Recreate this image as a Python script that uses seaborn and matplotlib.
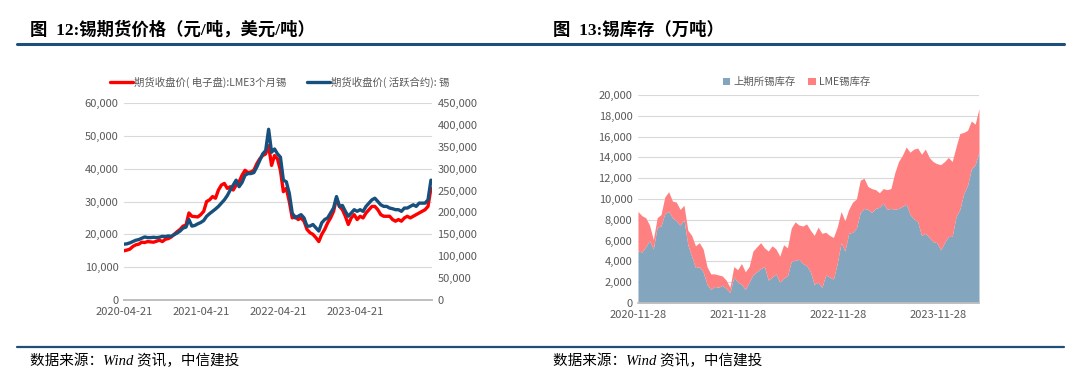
import pandas as pd
import matplotlib.pyplot as plt
import matplotlib.dates as mdates
import seaborn as sns

# Left chart: tin futures prices, 14-day steps from 2020-04-21
lme_usd = [15000, 15200, 15500, 16300, 16800, 17000, 17600, 17500, 17800, 17700,
           17600, 17900, 18200, 17800, 18500, 18700, 19200, 20000, 20800, 21500,
           22500, 22800, 26500, 25500, 25400, 25300, 26000, 27000, 30000, 30500,
           31500, 31000, 33500, 35000, 35500, 34000, 34500, 33500, 35000, 36000,
           38000, 39500, 38800, 39000, 39500, 41500, 43000, 44000, 44500, 47000,
           41000, 44000, 43000, 39500, 33000, 34000, 30000, 25000, 25500, 24500,
           25000, 24000, 21500, 20500, 20000, 19000, 17800, 20000, 21500, 23500,
           25000, 27000, 31000, 28500, 27500, 25500, 23000, 25000, 26000, 24500,
           25500, 25000, 26500, 27500, 28500, 28500, 27500, 26000, 25500, 25500,
           25500, 24500, 24000, 24500, 24000, 25000, 25500, 25000, 25500, 26000,
           26500, 27000, 27500, 28500, 34000]
shfe_cny = [127500, 128300, 130500, 133500, 136500, 138000, 141000, 144000, 142500, 142500,
            143300, 142500, 143300, 145500, 144800, 146300, 145500, 149300, 153000, 157500,
            164300, 166500, 183800, 168800, 170300, 174000, 177000, 181500, 191300, 197300,
            202500, 207800, 213800, 221300, 228800, 238500, 251300, 262500, 273800, 258800,
            268500, 285000, 288800, 288800, 291000, 303800, 318800, 333800, 341300, 390000,
            337500, 345000, 333800, 326300, 273800, 270000, 243800, 198800, 187500, 191300,
            195000, 187500, 168800, 168800, 172500, 165000, 157500, 176300, 183800, 187500,
            198800, 210000, 236300, 213800, 216000, 202500, 191300, 198800, 206300, 202500,
            206300, 202500, 213800, 221300, 228800, 232500, 225000, 217500, 213800, 213800,
            210000, 208500, 206300, 206300, 202500, 210000, 210000, 213800, 217500, 213800,
            221300, 221300, 221300, 228800, 273800]
price_dates = pd.date_range('2020-04-21', periods=len(lme_usd), freq='14D')
price_ticks = ['2020-04-21', '2021-04-21', '2022-04-21', '2023-04-21']

# Right chart: tin inventories, 14-day steps from 2020-11-28
shfe_stock = [5000, 4900, 5400, 6000, 5200, 7300, 7400, 8600, 8800, 8200,
              7900, 7500, 8000, 5600, 4500, 3400, 3500, 3000, 1800, 1300,
              1600, 1500, 1700, 1400, 1000, 2500, 2000, 1800, 1300, 2000,
              2700, 3000, 3300, 3500, 2200, 2500, 2800, 2000, 2400, 2600,
              4000, 4100, 4200, 3800, 3600, 3000, 1800, 2000, 1500, 2700,
              2500, 2300, 3800, 5800, 5000, 6700, 6800, 7200, 8700, 9100,
              9000, 8700, 9100, 9200, 9600, 9000, 9100, 9000, 9100, 9300,
              9500, 8500, 8100, 7800, 6500, 6700, 6300, 5900, 5800, 5100,
              5800, 6400, 6400, 8300, 9000, 10500, 11300, 12900, 13300, 14500]
lme_stock = [3800, 3500, 2800, 1500, 900, 900, 1100, 1600, 1900, 1600,
             1800, 1500, 1400, 1400, 2000, 2100, 2300, 2200, 1700, 1500,
             1200, 1200, 900, 800, 500, 1000, 1200, 2000, 1700, 1500,
             2300, 2400, 2500, 1800, 2800, 3000, 2400, 2500, 3200, 2700,
             3200, 3700, 3300, 3600, 4000, 4000, 4700, 5300, 5200, 4100,
             4000, 4000, 3500, 3000, 2900, 2300, 2900, 2800, 3100, 2900,
             2200, 2300, 1800, 1400, 1400, 1900, 1900, 3500, 4500, 4900,
             5500, 6000, 6700, 7100, 7800, 8100, 7700, 7700, 7600, 8200,
             7800, 7600, 7200, 6700, 7300, 5900, 5300, 4600, 3900, 4200]
stock_dates = pd.date_range('2020-11-28', periods=len(shfe_stock), freq='14D')
stock_ticks = ['2020-11-28', '2021-11-28', '2022-11-28', '2023-11-28']

sns.set_theme(style="white")
plt.rcParams['font.family'] = ['Noto Sans CJK SC', 'DejaVu Sans']
plt.rcParams['axes.unicode_minus'] = False

grey = '#595959'
navy = '#1f4e79'
serif_cjk = ['Liberation Serif', 'Noto Sans CJK SC']
fig = plt.figure(figsize=(10.8, 3.78), dpi=100)

def fmt(v, pos):
    return f'{int(v):,}'

# ---- left chart
ax = fig.add_axes([124/1080, 78/378, 308/1080, 197/378])
ax2 = ax.twinx()
sns.lineplot(x=price_dates, y=lme_usd, ax=ax, color='#ff0000', lw=2.4)
sns.lineplot(x=price_dates, y=shfe_cny, ax=ax2, color='#17507d', lw=2.4)
ax.set_ylim(0, 60000)
ax2.set_ylim(0, 450000)
ax.set_yticks(range(0, 60001, 10000))
ax2.set_yticks(range(0, 450001, 50000))
ax.yaxis.set_major_formatter(plt.FuncFormatter(fmt))
ax2.yaxis.set_major_formatter(plt.FuncFormatter(fmt))
ax.set_xlim(price_dates[0], pd.Timestamp('2024-04-21'))
ax.set_xticks(pd.to_datetime(price_ticks))
ax.xaxis.set_major_formatter(mdates.DateFormatter('%Y-%m-%d'))
ax.grid(axis='y', color='#d9d9d9', lw=0.8)
ax.set_axisbelow(True)
for a in (ax, ax2):
    for s in ('top', 'left', 'right'):
        a.spines[s].set_visible(False)
    a.spines['bottom'].set_color('#bfbfbf')
    a.tick_params(colors=grey, labelsize=8, length=0, pad=4)
    a.set_xlabel('')
    a.set_ylabel('')
ax.tick_params(axis='x', length=3, color='#bfbfbf', pad=2)
fig.legend(handles=[ax.lines[0], ax2.lines[0]],
           labels=['期货收盘价( 电子盘):LME3个月锡', '期货收盘价( 活跃合约): 锡'],
           loc='center', bbox_to_anchor=(280/1080, 1 - 82/378), ncol=2, frameon=False,
           fontsize=7.5, labelcolor=grey, handlelength=2.2, handletextpad=0.1, columnspacing=2)

# ---- right chart
bx = fig.add_axes([638/1080, 75/378, 341/1080, 208/378])
bx.stackplot(stock_dates, shfe_stock, lme_stock, colors=['#83a5bd', '#ff8080'],
             labels=['上期所锡库存', 'LME锡库存'], lw=0)
bx.set_ylim(0, 20000)
bx.set_yticks(range(0, 20001, 2000))
bx.yaxis.set_major_formatter(plt.FuncFormatter(fmt))
bx.set_xlim(stock_dates[0], stock_dates[-1])
bx.set_xticks(pd.to_datetime(stock_ticks))
bx.xaxis.set_major_formatter(mdates.DateFormatter('%Y-%m-%d'))
bx.grid(axis='y', color='#d9d9d9', lw=0.8)
bx.set_axisbelow(True)
for s in ('top', 'left', 'right'):
    bx.spines[s].set_visible(False)
bx.spines['bottom'].set_color('#bfbfbf')
bx.tick_params(colors=grey, labelsize=8, length=0, pad=4)
bx.tick_params(axis='x', length=3, color='#bfbfbf', pad=2)
bx.legend(loc='center', bbox_to_anchor=(0.465, 1 + 13/208), ncol=2, frameon=False,
          fontsize=7.5, labelcolor=grey, handlelength=0.7, handleheight=0.7,
          handletextpad=0.3, columnspacing=1.2)

# ---- titles, rules and sources
fig.text(30/1080, 1 - 30/378, '图  12:锡期货价格（元/吨，美元/吨）', fontsize=12.5,
         fontweight='bold', va='center', color='black', family=serif_cjk)
fig.text(553/1080, 1 - 30/378, '图  13:锡库存（万吨）', fontsize=12.5,
         fontweight='bold', va='center', color='black', family=serif_cjk)
fig.add_artist(plt.Line2D([17/1080, 1064/1080], [1 - 44/378] * 2, color=navy, lw=2.2))
fig.add_artist(plt.Line2D([17/1080, 1064/1080], [1 - 347/378] * 2, color=navy, lw=1.6))
fig.text(30/1080, 1 - 361/378, '数据来源：Wind 资讯，中信建投', fontsize=10.5,
         fontstyle='italic', va='center', color='black', family=serif_cjk)
fig.text(553/1080, 1 - 361/378, '数据来源：Wind 资讯，中信建投', fontsize=10.5,
         fontstyle='italic', va='center', color='black', family=serif_cjk)

fig.savefig('out.png', dpi=100)
